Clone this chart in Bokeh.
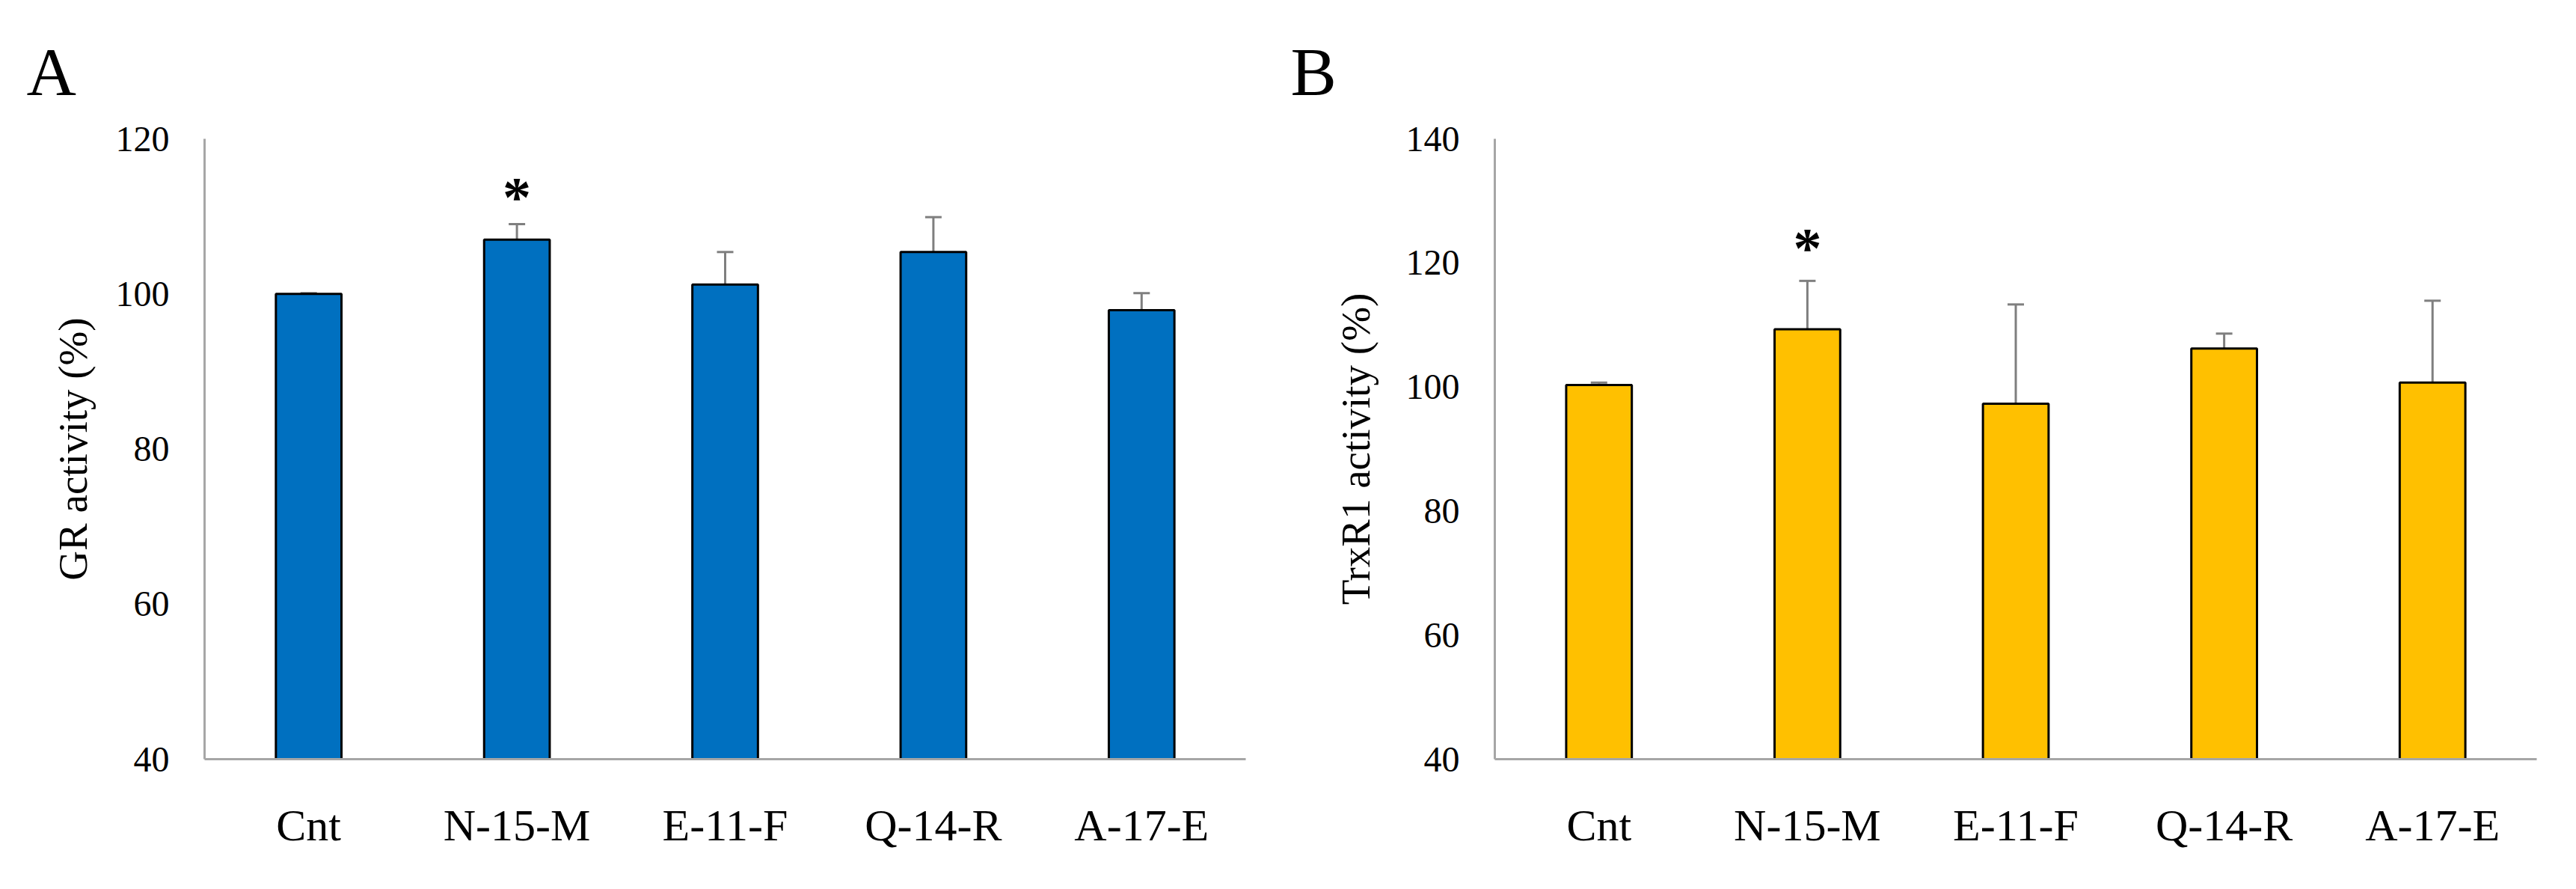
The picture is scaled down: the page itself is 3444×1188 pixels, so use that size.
from bokeh.plotting import figure
from bokeh.models import ColumnDataSource, Whisker, TeeHead, Title, FactorRange, Range1d
from bokeh.layouts import row
from bokeh.core.properties import value
from bokeh.embed import file_html
from bokeh.resources import INLINE

# ---- data ----
categories = ["Cnt", "N-15-M", "E-11-F", "Q-14-R", "A-17-E"]
gr_mean = [100.0, 107.0, 101.2, 105.4, 97.9]
gr_err = [0.1, 2.0, 4.2, 4.5, 2.2]
trx_mean = [100.3, 109.3, 97.3, 106.2, 100.7]
trx_err = [0.4, 7.8, 16.0, 2.4, 13.2]
gr_ticks = [40, 60, 80, 100, 120]
trx_ticks = [40, 60, 80, 100, 120, 140]
significant = ["N-15-M"]

SERIF = "Liberation Serif"
AXIS_GREY = "#A6A6A6"
ERR_GREY = "#7F7F7F"


def make_panel(letter, ylabel, means, errs, ticks, color, width,
               border_left, border_right, label_standoff, star_offset, letter_offset):
    p = figure(x_range=FactorRange(*categories),
               y_range=Range1d(ticks[0], ticks[-1]),
               width=width, height=1172,
               output_backend="svg", toolbar_location=None,
               min_border_left=border_left, min_border_right=border_right,
               min_border_top=185, min_border_bottom=158)
    p.x_range.range_padding = 0
    p.outline_line_color = None
    p.xgrid.grid_line_color = None
    p.ygrid.grid_line_color = None
    p.background_fill_color = "white"
    p.border_fill_color = "white"

    src = ColumnDataSource(dict(
        cat=categories,
        top=means,
        bottom=[ticks[0]] * len(categories),
        upper=[m + e for m, e in zip(means, errs)],
    ))
    p.vbar(x="cat", top="top", bottom="bottom", width=0.315, source=src,
           fill_color=color, line_color="black", line_width=3)

    p.add_layout(Whisker(base="cat", lower="top", upper="upper", source=src,
                         line_color=ERR_GREY, line_width=3,
                         lower_head=None,
                         upper_head=TeeHead(size=22, line_color=ERR_GREY, line_width=3)))

    sig_x = [c for c in categories if c in significant]
    sig_y = [m + e for c, m, e in zip(categories, means, errs) if c in significant]
    p.text(x=sig_x, y=sig_y, text=["*"] * len(sig_x),
           text_font=value(SERIF), text_font_style="bold", text_font_size="76px",
           text_align="center", text_baseline="alphabetic", y_offset=star_offset,
           text_color="black")

    p.yaxis.ticker = ticks
    p.yaxis.axis_label = ylabel
    p.yaxis.axis_label_text_font = SERIF
    p.yaxis.axis_label_text_font_style = "normal"
    p.yaxis.axis_label_text_font_size = "55px"
    p.yaxis.axis_label_text_color = "black"
    p.yaxis.axis_label_standoff = label_standoff
    p.yaxis.major_label_text_font = SERIF
    p.yaxis.major_label_text_font_size = "48px"
    p.yaxis.major_label_text_color = "black"
    p.yaxis.major_label_standoff = 47

    p.xaxis.major_label_text_font = SERIF
    p.xaxis.major_label_text_font_size = "60px"
    p.xaxis.major_label_text_color = "black"
    p.xaxis.major_label_standoff = 55

    for ax in (p.xaxis, p.yaxis):
        ax.axis_line_color = AXIS_GREY
        ax.axis_line_width = 3
        ax.major_tick_line_color = None
        ax.minor_tick_line_color = None
        ax.major_tick_out = 0
        ax.major_tick_in = 0
        ax.minor_tick_out = 0

    p.add_layout(Title(text=letter, text_font=SERIF, text_font_size="92px",
                       text_font_style="normal", text_color="black",
                       align="left", offset=letter_offset, standoff=78), "above")
    return p


pA = make_panel("A", "GR activity (%)", gr_mean, gr_err, gr_ticks, "#0070C0",
                1692, 273, 27, 24, -36, -238)
pB = make_panel("B", "TrxR1 activity (%)", trx_mean, trx_err, trx_ticks, "#FFC000",
                1736, 306, 37, 34, -44, -273)

layout = row(pA, pB)
open("out.html", "w").write(file_html(layout, INLINE))
